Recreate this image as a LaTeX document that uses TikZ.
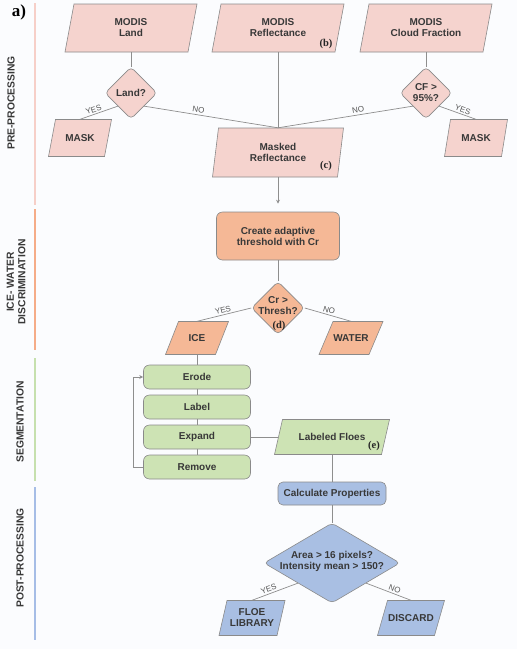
\documentclass[tikz,border=0pt]{standalone}
\usepackage{fontspec}
\setmainfont{Liberation Sans}
\newfontfamily\serifb{Liberation Serif}
\usetikzlibrary{shapes.geometric,arrows.meta}
\definecolor{bgc}{HTML}{FBFCFE}
\definecolor{txtc}{HTML}{383838}
\definecolor{edgec}{HTML}{8A8A8A}
\definecolor{linec}{HTML}{8E8E8E}
\definecolor{ync}{HTML}{555555}
\definecolor{pinkf}{HTML}{F5D3CE}
\definecolor{orangef}{HTML}{F5B896}
\definecolor{greenf}{HTML}{CDE3B4}
\definecolor{bluef}{HTML}{A9BFE3}
\definecolor{pinkb}{HTML}{F6CFC8}
\definecolor{orangeb}{HTML}{F5AC88}
\definecolor{greenb}{HTML}{C6E0AE}
\definecolor{blueb}{HTML}{A6BDE6}
\newcommand\pgram[7]{%
  \draw[pbox,fill=#6,shift={(#2)}] ({-#3/2+#5/2},{-#4/2}) -- ({#3/2+#5/2},{-#4/2}) -- ({#3/2-#5/2},{#4/2}) -- ({-#3/2-#5/2},{#4/2}) -- cycle;
  \node[txt,minimum width=#3pt,minimum height=#4pt] (#1) at (#2) {#7};}
\begin{document}
\begin{tikzpicture}[x=1pt,y=-1pt,
  txt/.style={font=\bfseries\fontsize{10}{11}\selectfont, text=txtc, align=center, inner sep=0pt},
  pbox/.style={draw=edgec, line width=0.6pt},
  rbox/.style={txt, draw=edgec, line width=0.6pt, rounded corners=6pt},
  diam/.style={shape=diamond, draw=edgec, line width=0.6pt, rounded corners=4pt, inner sep=0pt, shape aspect=1},
  conn/.style={draw=linec, line width=0.7pt},
  tip/.style={-{Stealth[length=4pt,width=4pt]}},
  yn/.style={font=\fontsize{8}{9}\selectfont, text=ync, sloped, above, inner sep=1.5pt},
  bar/.style={line width=2.5pt},
  sect/.style={font=\bfseries\fontsize{10.3}{11.5}\selectfont, text=txtc, rotate=90, align=center, inner sep=0pt},
  tag/.style={font=\serifb\bfseries\fontsize{10.5}{11}\selectfont, text=black!85, inner sep=0pt}]
\fill[bgc] (0,0) rectangle (517,649);
\useasboundingbox (0,0) rectangle (517,649);

% section bars and labels
\draw[bar,pinkb] (35,3) -- (35,205);
\draw[bar,orangeb] (35,209) -- (35,350);
\draw[bar,greenb] (35,358) -- (35,481);
\draw[bar,blueb] (35,487) -- (35,640);
\node[sect] (spre) at (11,103) {PRE-PROCESSING};
\node[sect] (sice) at (16,282) {ICE- WATER\\DISCRIMINATION};
\node[sect] (sseg) at (20,422) {SEGMENTATION};
\node[sect] (spost) at (20,558) {POST-PROCESSING};
\node[font=\serifb\bfseries\fontsize{17}{18}\selectfont, inner sep=0pt] (alab) at (19,12) {a)};

% pre-processing
\pgram{mland}{131,28}{123}{48}{9}{pinkf}{MODIS\\Land}
\pgram{mrefl}{278,28}{123}{48}{9}{pinkf}{MODIS\\Reflectance}
\pgram{mcf}{426,28}{123}{48}{9}{pinkf}{MODIS\\Cloud Fraction}
\pgram{maskl}{80,138}{56}{37}{7}{pinkf}{MASK}
\pgram{maskr}{476,138}{57}{37}{6}{pinkf}{MASK}
\pgram{masked}{278,152.5}{125}{49}{6}{pinkf}{Masked\\Reflectance}
\node[diam,fill=pinkf,minimum width=52pt,minimum height=52pt] (land) at (131,93) {};
\node[txt] (landt) at (land) {Land?};
\node[diam,fill=pinkf,minimum width=52pt,minimum height=52pt] (cf) at (426,93) {};
\node[txt] (cft) at (cf) {CF >\\95\%?};
\node[tag] (tb) at (326,44) {(b)};
\node[tag] (tc) at (326,166) {(c)};

\draw[conn] (mland.south) -- (land.north);
\draw[conn] (mcf.south) -- (cf.north);
\draw[conn] (mrefl.south) -- (masked.north);
\draw[conn] (land.south west) -- node[yn,pos=0.6] {YES} (maskl.north);
\draw[conn] (land.south east) -- node[yn,pos=0.4] {NO} (masked.north);
\draw[conn] (cf.south west) -- node[yn,pos=0.4] {NO} (masked.north);
\draw[conn] (cf.south east) -- node[yn,pos=0.6] {YES} (maskr.north);

% ice-water discrimination
\node[rbox,fill=orangef,minimum width=123pt,minimum height=48pt] (create) at (278,236) {Create adaptive\\threshold with Cr};
\draw[conn,tip,shorten >=8pt] (masked.south) -- (create.north);
\node[diam,fill=orangef,minimum width=53pt,minimum height=53pt] (cr) at (278,308) {};
\node[txt] (crt) at (278,306) {Cr >\\Thresh?};
\node[tag] (td) at (279,326) {(d)};
\pgram{ice}{197,338}{50}{33}{13}{orangef}{ICE}
\pgram{water}{351,338}{50}{33}{14}{orangef}{WATER}
\draw[conn] (create.south) -- (cr.north);
\draw[conn] (cr.west) -- node[yn,pos=0.5] {YES} (ice.north);
\draw[conn] (cr.east) -- node[yn,pos=0.5] {NO} (water.north);

% segmentation
\node[rbox,fill=greenf,minimum width=107pt,minimum height=24pt] (erode) at (197,377) {Erode};
\node[rbox,fill=greenf,minimum width=107pt,minimum height=24pt] (label) at (197,407) {Label};
\node[rbox,fill=greenf,minimum width=107pt,minimum height=24pt] (expand) at (197,437) {Expand};
\node[rbox,fill=greenf,minimum width=107pt,minimum height=24pt] (remove) at (197,467) {Remove};
\pgram{floes}{332,437}{107}{35}{8}{greenf}{Labeled Floes}
\node[tag] (te) at (374,446) {(e)};
\draw[conn] (ice.south) -- (erode.north);
\draw[conn] (erode.south) -- (label.north);
\draw[conn] (label.south) -- (expand.north);
\draw[conn] (expand.south) -- (remove.north);
\draw[conn,tip] (remove.west) -- ++(-10,0) |- (erode.west);
\draw[conn] (expand.east) -- (floes.west);

% post-processing
\node[rbox,fill=bluef,rounded corners=5pt,minimum width=108pt,minimum height=23pt] (calc) at (332,493.5) {Calculate Properties};
\node[diam,fill=bluef,minimum width=136pt,minimum height=80pt] (area) at (332,563) {};
\node[txt] (areat) at (332,561.5) {Area > 16 pixels?\\Intensity mean > 150?};
\pgram{floe}{252,618}{58}{35}{8}{bluef}{FLOE\\LIBRARY}
\pgram{discard}{411,618}{57}{35}{10}{bluef}{DISCARD}
\draw[conn] (floes.south) -- (calc.north);
\draw[conn] (calc.south) -- (area.north);
\draw[conn] (area.south west) -- node[yn,pos=0.6] {YES} (floe.north);
\draw[conn] (area.south east) -- node[yn,pos=0.6] {NO} (discard.north);
\end{tikzpicture}
\end{document}
